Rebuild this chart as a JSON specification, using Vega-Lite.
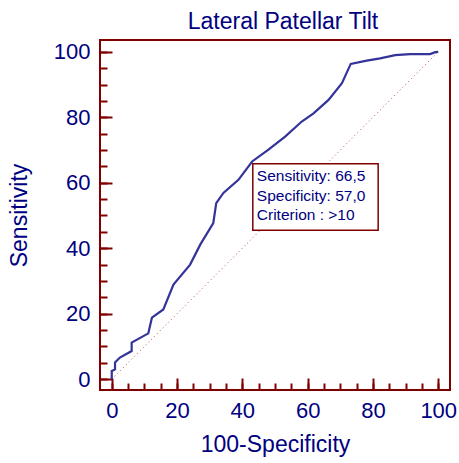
{
  "$schema": "https://vega.github.io/schema/vega-lite/v6.json",
  "width": 350,
  "height": 350,
  "autosize": "none",
  "padding": {"left": 100, "top": 40, "right": 9, "bottom": 73},
  "background": "white",
  "config": {
    "view": {"stroke": "#800000", "strokeWidth": 2},
    "font": "Liberation Sans"
  },
  "title": {
    "text": "Lateral Patellar Tilt",
    "fontSize": 23,
    "fontWeight": "normal",
    "color": "#000080",
    "font": "Liberation Sans",
    "baseline": "alphabetic",
    "offset": -12,
    "dx": 8
  },
  "datasets": {
    "curve": [
      {"i": 0, "x": 0, "y": 0},
      {"i": 1, "x": 0, "y": 2.5},
      {"i": 2, "x": 1.0, "y": 3.0},
      {"i": 3, "x": 1.0, "y": 5.1},
      {"i": 4, "x": 2.5, "y": 6.6},
      {"i": 5, "x": 6.1, "y": 8.6},
      {"i": 6, "x": 6.1, "y": 11.2},
      {"i": 7, "x": 11.2, "y": 14.0},
      {"i": 8, "x": 12.3, "y": 18.8},
      {"i": 9, "x": 15.8, "y": 21.3},
      {"i": 10, "x": 18.9, "y": 28.9},
      {"i": 11, "x": 24.0, "y": 35.0},
      {"i": 12, "x": 27.1, "y": 41.1},
      {"i": 13, "x": 31.1, "y": 47.7},
      {"i": 14, "x": 32.0, "y": 53.8},
      {"i": 15, "x": 34.2, "y": 56.9},
      {"i": 16, "x": 38.8, "y": 60.9},
      {"i": 17, "x": 43.0, "y": 66.5},
      {"i": 18, "x": 48.0, "y": 70.1},
      {"i": 19, "x": 53.1, "y": 74.1},
      {"i": 20, "x": 58.2, "y": 78.7},
      {"i": 21, "x": 61.8, "y": 81.2},
      {"i": 22, "x": 66.4, "y": 85.3},
      {"i": 23, "x": 70.5, "y": 90.4},
      {"i": 24, "x": 73.2, "y": 96.3},
      {"i": 25, "x": 78.1, "y": 97.3},
      {"i": 26, "x": 82.2, "y": 98.0},
      {"i": 27, "x": 86.8, "y": 99.0},
      {"i": 28, "x": 91.4, "y": 99.3},
      {"i": 29, "x": 97.5, "y": 99.3},
      {"i": 30, "x": 99.1, "y": 99.9},
      {"i": 31, "x": 100, "y": 100}
    ],
    "diag": [
      {"x": 0, "y": 0},
      {"x": 100, "y": 100}
    ],
    "box": [
      {"x": 43.2, "x2": 81.6, "y": 65.8, "y2": 45.5, "label": "Sensitivity: 66,5\nSpecificity: 57,0\nCriterion : >10"}
    ]
  },
  "layer": [
    {
      "data": {"name": "diag"},
      "mark": {"type": "line", "color": "#c04848", "strokeWidth": 1, "strokeDash": [1, 3]},
      "encoding": {
        "x": {
          "field": "x", "type": "quantitative",
          "scale": {"domain": [-3.6, 103.6], "nice": false, "zero": false},
          "axis": {
            "orient": "bottom", "values": [0,5,10,15,20,25,30,35,40,45,50,55,60,65,70,75,80,85,90,95,100],
            "tickSize": -7, "tickWidth": 2, "tickColor": "#800000",
            "domain": false, "grid": false, "labels": false, "title": null
          }
        },
        "y": {
          "field": "y", "type": "quantitative",
          "scale": {"domain": [-3.3, 103.6], "nice": false, "zero": false},
          "axis": {
            "orient": "left", "values": [0,5,10,15,20,25,30,35,40,45,50,55,60,65,70,75,80,85,90,95,100],
            "tickSize": -7, "tickWidth": 2, "tickColor": "#800000",
            "domain": false, "grid": false, "labels": false, "title": null
          }
        }
      }
    },
    {
      "data": {"name": "box"},
      "mark": {"type": "rect", "fill": "white", "stroke": "#800000", "strokeWidth": 1.5},
      "encoding": {
        "x": {"field": "x", "type": "quantitative", "axis": null},
        "x2": {"field": "x2"},
        "y": {"field": "y", "type": "quantitative", "axis": null},
        "y2": {"field": "y2"}
      }
    },
    {
      "data": {"name": "curve"},
      "mark": {"type": "line", "color": "#333399", "strokeWidth": 2.2},
      "encoding": {
        "order": {"field": "i", "type": "quantitative"},
        "x": {
          "field": "x", "type": "quantitative",
          "axis": {
            "orient": "bottom", "values": [0, 20, 40, 60, 80, 100],
            "tickSize": -12, "tickWidth": 2, "tickColor": "#800000",
            "domain": false, "grid": false,
            "labelFontSize": 22, "labelColor": "#000080", "labelFont": "Liberation Sans",
            "labelPadding": 22, "labelFlush": false,
            "title": "100-Specificity", "titleFontSize": 23, "titleColor": "#000080",
            "titleFont": "Liberation Sans", "titleFontWeight": "normal", "titlePadding": 12
          }
        },
        "y": {
          "field": "y", "type": "quantitative",
          "axis": {
            "orient": "left", "values": [0, 20, 40, 60, 80, 100],
            "tickSize": -12, "tickWidth": 2, "tickColor": "#800000",
            "domain": false, "grid": false,
            "labelFontSize": 22, "labelColor": "#000080", "labelFont": "Liberation Sans",
            "labelPadding": 22, "labelFlush": false,
            "title": "Sensitivity", "titleFontSize": 23, "titleColor": "#000080",
            "titleFont": "Liberation Sans", "titleFontWeight": "normal", "titlePadding": 22
          }
        }
      }
    },
    {
      "data": {"name": "box"},
      "mark": {"type": "text", "align": "left", "baseline": "alphabetic", "dx": 4, "dy": 17.7,
               "fontSize": 15.5, "color": "#000080", "font": "Liberation Sans", "lineBreak": "\n", "lineHeight": 19.5},
      "encoding": {
        "x": {"field": "x", "type": "quantitative", "axis": null},
        "y": {"field": "y", "type": "quantitative", "axis": null},
        "text": {"field": "label"}
      }
    }
  ],
  "resolve": {"axis": {"x": "independent", "y": "independent"}}
}
